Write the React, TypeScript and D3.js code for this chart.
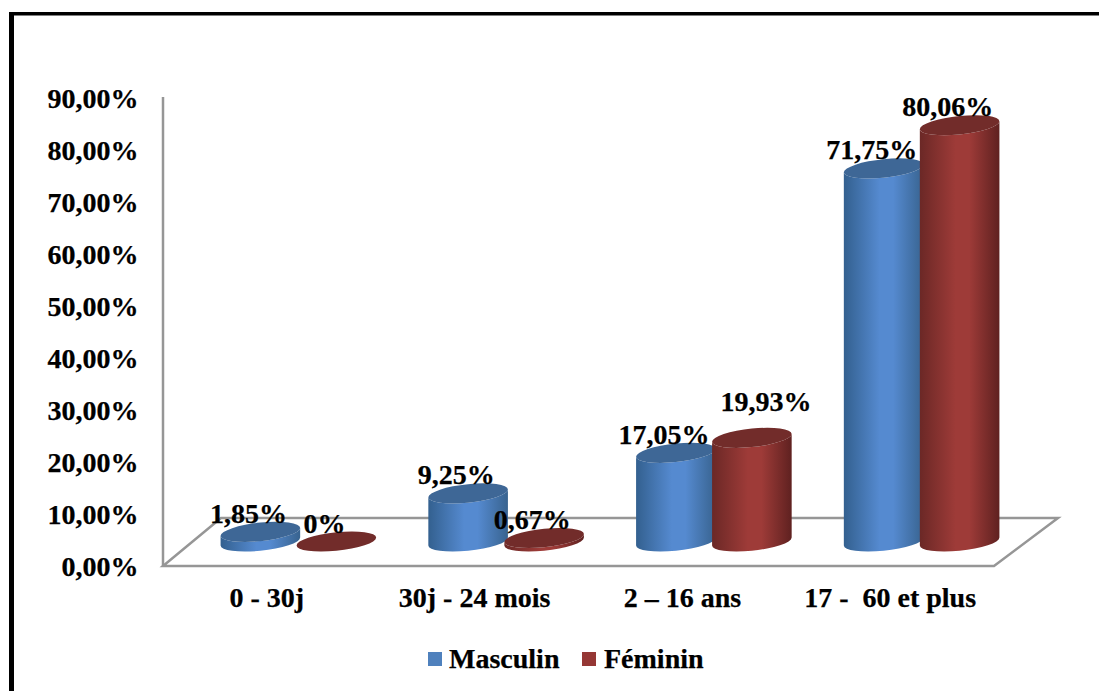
import React from "react";
import * as d3 from "d3";

const categories = ["0 - 30j", "30j - 24 mois", "2 – 16 ans", "17 -  60 et plus"];
const seriesNames = ["Masculin", "Féminin"];
const masculin = [1.85, 9.25, 17.05, 71.75];
const feminin = [0, 0.67, 19.93, 80.06];
const seriesValues = [masculin, feminin];

const W = 1099;
const H = 691;
const FONT = "'Liberation Serif', 'Times New Roman', serif";
const FONT_SIZE = 28;

// Oblique floor of the 3D plot
const floorLeft = 163;
const floorRight = 994;
const floorBottom = 566;
const depthX = 64;
const depthY = 48;
const barShift = 31.5;
const baseLift = 24.5;

// Tilted cylinder cross-section
const rx = 40;
const ry = 9.2;
const tiltDeg = -6;

const palette = [
  { edgeL: "#33608f", mid: "#558ad0", edgeR: "#38638f", top: "#3e6796", key: "#4f81bd" },
  { edgeL: "#6b2826", mid: "#9e3b38", edgeR: "#5f2120", top: "#722c2a", key: "#953735" },
];

const x = d3.scaleBand<string>().domain(categories).range([floorLeft, floorRight]);
const inner = d3.scaleBand<string>().domain(seriesNames).range([-76, 76]);
const y = d3.scaleLinear().domain([0, 90]).range([floorBottom, 98]);

const tickText = (v: number) => d3.format(".2f")(v).replace(".", ",") + "%";
const valueText = (v: number) => (v === 0 ? "0%" : d3.format(".2f")(v).replace(".", ",") + "%");

// Offset between the silhouette's left/right tangent points and the ellipse centre
const th = (tiltDeg * Math.PI) / 180;
const halfW = Math.sqrt(rx * rx * Math.cos(th) ** 2 + ry * ry * Math.sin(th) ** 2);
const tanY = ((rx * rx - ry * ry) * Math.sin(th) * Math.cos(th)) / halfW;

function ellipsePath(cx: number, cy: number) {
  const lx = cx - halfW;
  const ly = cy - tanY;
  const rxp = cx + halfW;
  const ryp = cy + tanY;
  return `M${lx},${ly}A${rx},${ry} ${tiltDeg} 1 1 ${rxp},${ryp}A${rx},${ry} ${tiltDeg} 1 1 ${lx},${ly}Z`;
}

function bodyPath(cx: number, topY: number, botY: number) {
  const lx = cx - halfW;
  const rxp = cx + halfW;
  return (
    `M${lx},${topY - tanY}L${lx},${botY - tanY}` +
    `A${rx},${ry} ${tiltDeg} 0 0 ${rxp},${botY + tanY}` +
    `L${rxp},${topY + tanY}` +
    `A${rx},${ry} ${tiltDeg} 0 1 ${lx},${topY - tanY}Z`
  );
}

export default function App() {
  const gridStroke = "#969696";
  const bw = x.bandwidth();
  return (
    <svg
      width={W}
      height={H}
      viewBox={`0 0 ${W} ${H}`}
      style={{ position: "absolute", left: 0, top: 0, background: "#fff" }}
      fontFamily={FONT}
      fontWeight="bold"
    >
      <defs>
        {palette.map((p, i) => (
          <linearGradient key={i} id={`side-${i}`} x1="0" x2="1" y1="0" y2="0">
            <stop offset="0" stopColor={p.edgeL} />
            <stop offset="0.45" stopColor={p.mid} />
            <stop offset="0.62" stopColor={p.mid} />
            <stop offset="1" stopColor={p.edgeR} />
          </linearGradient>
        ))}
      </defs>

      {/* Page frame, open on the right and bottom */}
      <rect x={9} y={12} width={5} height={H - 12} fill="#000" />
      <rect x={9} y={12} width={W - 9} height={3.5} fill="#000" />

      {/* Walls and floor */}
      <g fill="none" stroke={gridStroke} strokeWidth={2.5}>
        <line x1={floorLeft} x2={floorLeft} y1={y(90) - 1} y2={floorBottom} />
        <path
          d={`M${floorLeft},${floorBottom}L${floorRight},${floorBottom}L${floorRight + depthX},${floorBottom - depthY}L${floorLeft + depthX - 6},${floorBottom - depthY}Z`}
        />
      </g>

      {/* Value axis */}
      <g fontSize={FONT_SIZE} textAnchor="end" fill="#000" stroke="#000" strokeWidth={0.25}>
        {y.ticks(10).map((t) => (
          <text key={t} x={138.5} y={y(t) + 9.5}>
            {tickText(t)}
          </text>
        ))}
      </g>

      {/* Cylinders */}
      {categories.map((c, ci) => (
        <g key={c}>
          {seriesNames.map((s, si) => {
            const v = seriesValues[si][ci];
            const cx = (x(c) as number) + bw / 2 + barShift + (inner(s) as number) + inner.bandwidth() / 2;
            const botY = y(0) - baseLift;
            const topY = y(v) - baseLift;
            return (
              <g key={s}>
                {v > 0 && <path d={bodyPath(cx, topY, botY)} fill={`url(#side-${si})`} />}
                <path d={ellipsePath(cx, topY)} fill={palette[si].top} />
              </g>
            );
          })}
        </g>
      ))}

      {/* Value labels, above all cylinders */}
      <g fontSize={FONT_SIZE} textAnchor="middle" fill="#000" stroke="#000" strokeWidth={0.25}>
        {categories.map((c, ci) =>
          seriesNames.map((s, si) => {
            const v = seriesValues[si][ci];
            const cx = (x(c) as number) + bw / 2 + barShift + (inner(s) as number) + inner.bandwidth() / 2;
            const topY = y(v) - baseLift;
            // The 19,93% label was moved clear of its neighbour
            const moved = ci === 2 && si === 1;
            return (
              <text key={s + c} x={cx + (moved ? 14 : -12)} y={topY - (moved ? 27 : 9)}>
                {valueText(v)}
              </text>
            );
          })
        )}
      </g>

      {/* Category axis */}
      <g fontSize={FONT_SIZE} textAnchor="middle" fill="#000" stroke="#000" strokeWidth={0.25}>
        {categories.map((c) => (
          <text key={c} x={(x(c) as number) + bw / 2} y={607} style={{ whiteSpace: "pre" }}>
            {c}
          </text>
        ))}
      </g>

      {/* Legend */}
      <g fontSize={FONT_SIZE} fill="#000" stroke="#000" strokeWidth={0.25}>
        <rect x={428} y={652} width={14} height={14} fill={palette[0].key} stroke="none" />
        <text x={449} y={668}>{seriesNames[0]}</text>
        <rect x={582} y={652} width={14} height={14} fill={palette[1].key} stroke="none" />
        <text x={604} y={668}>{seriesNames[1]}</text>
      </g>
    </svg>
  );
}
